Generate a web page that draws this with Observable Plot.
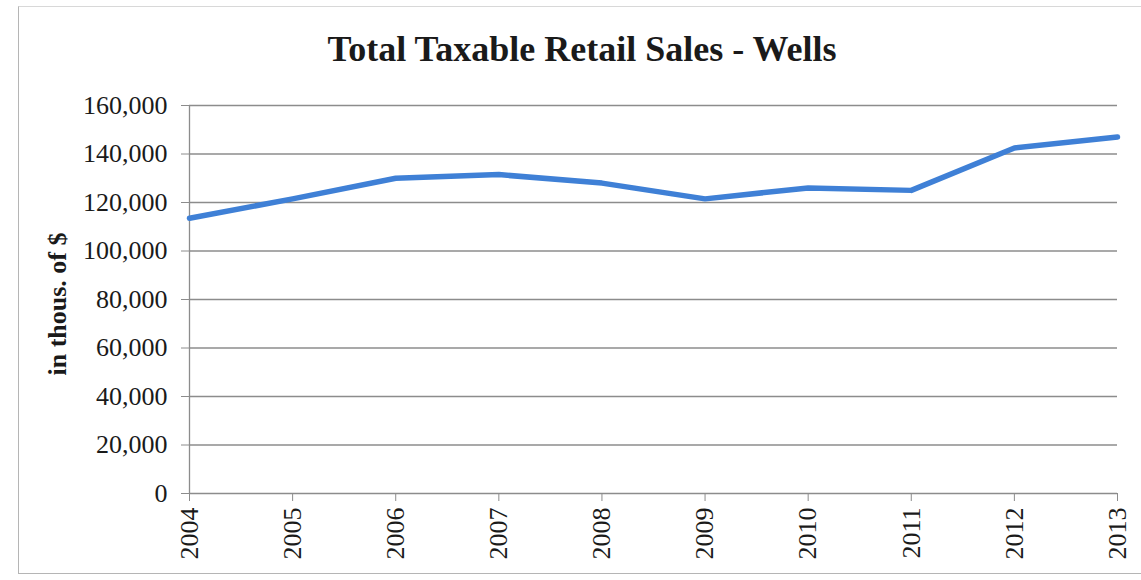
<!DOCTYPE html>
<html>
<head>
<meta charset="utf-8">
<script src="https://cdn.jsdelivr.net/npm/d3@7"></script>
<script src="https://cdn.jsdelivr.net/npm/@observablehq/plot@0.6"></script>
<style>
  html, body { margin: 0; padding: 0; background: #fff; }
  #wrap { position: relative; width: 1141px; height: 580px; overflow: hidden; font-family: "Liberation Serif", "Times New Roman", serif; }
  #frame { position: absolute; left: 18px; top: 6px; width: 1140px; height: 566px; border-left: 1.5px solid #b5b5b5; border-bottom: 1.5px solid #b5b5b5; border-top: 1px solid #d8d8d8; }
  #title { position: absolute; left: 0; width: 1164px; top: 28px; text-align: center; font-weight: bold; font-size: 36px; color: #1a1a1a; }
  #ylabel { position: absolute; left: 58px; top: 304px; transform: translate(-50%, -50%) rotate(-90deg); white-space: nowrap; font-weight: bold; font-size: 26px; color: #1a1a1a; }
  #chart { position: absolute; left: 0; top: 0; }
</style>
</head>
<body>
<div id="wrap">
  <div id="frame"></div>
  <div id="chart"></div>
  <div id="title">Total Taxable Retail Sales - Wells</div>
  <div id="ylabel">in thous. of $</div>
</div>
<script>
const years = [2004, 2005, 2006, 2007, 2008, 2009, 2010, 2011, 2012, 2013];
const sales = [113500, 121500, 130000, 131500, 128000, 121500, 126000, 125000, 142500, 147000];
const yTicks = [0, 20000, 40000, 60000, 80000, 100000, 120000, 140000, 160000];

const data = years.map((year, i) => ({year, sales: sales[i]}));

const chart = Plot.plot({
  width: 1141,
  height: 580,
  marginLeft: 189,
  marginRight: 24,
  marginTop: 105,
  marginBottom: 87,
  style: { fontFamily: "'Liberation Serif', 'Times New Roman', serif", fontSize: "26px", color: "#1a1a1a", background: "transparent" },
  x: { type: "linear", domain: [2004, 2013] },
  y: { domain: [0, 160000] },
  marks: [
    Plot.ruleY(yTicks, { stroke: "#8c8c8c", strokeWidth: 1.3 }),
    Plot.ruleX([2004], { y1: 0, y2: 160000, stroke: "#8c8c8c", strokeWidth: 1.3 }),
    Plot.axisY({ ticks: yTicks, tickFormat: d3.format(","), tickSize: 8, tickPadding: 14, stroke: "#8c8c8c", label: null }),
    Plot.axisX({ ticks: years, tickFormat: d => String(d), tickRotate: -90, tickSize: 8, tickPadding: 6, stroke: "#8c8c8c", label: null }),
    Plot.line(data, { x: "year", y: "sales", stroke: "#3f80d6", strokeWidth: 5.5, strokeLinejoin: "round" })
  ]
});
document.getElementById("chart").appendChild(chart);
</script>
</body>
</html>
